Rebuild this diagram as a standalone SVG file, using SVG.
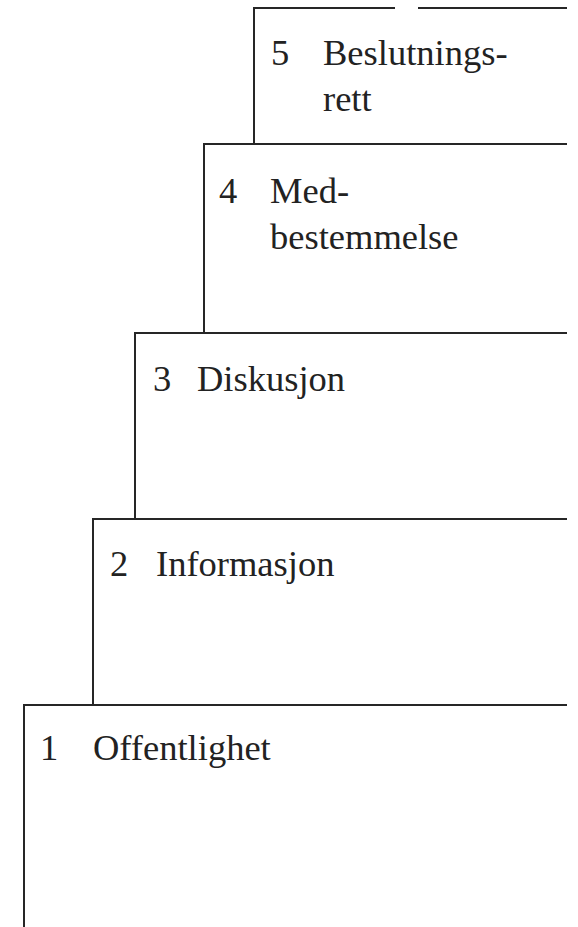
<svg xmlns="http://www.w3.org/2000/svg" width="578" height="927" viewBox="0 0 578 927">
<style>
.ln{stroke:#262626;stroke-width:2;fill:none;stroke-linecap:square}
.t{font-family:"Liberation Serif","Times New Roman",serif;font-size:36.5px;fill:#222}
</style>
<rect width="578" height="927" fill="#fff"/>
<g id="step5">
<path class="ln" d="M254,8 H394 M419,8 H566 M254,8 V144"/>
<text class="t" x="271" y="65">5</text>
<text class="t" x="323" y="65">Beslutnings-</text>
<text class="t" x="323" y="111">rett</text>
</g>
<g id="step4">
<path class="ln" d="M204,144 H566 M204,144 V333"/>
<text class="t" x="219" y="203">4</text>
<text class="t" x="270" y="203">Med-</text>
<text class="t" x="270" y="249">bestemmelse</text>
</g>
<g id="step3">
<path class="ln" d="M135,333 H566 M135,333 V519"/>
<text class="t" x="153" y="391">3</text>
<text class="t" x="197" y="391">Diskusjon</text>
</g>
<g id="step2">
<path class="ln" d="M93,519 H566 M93,519 V705"/>
<text class="t" x="110" y="576">2</text>
<text class="t" x="156" y="576">Informasjon</text>
</g>
<g id="step1">
<path class="ln" d="M24,705 H566 M24,705 V927"/>
<text class="t" x="40" y="760">1</text>
<text class="t" x="93" y="760">Offentlighet</text>
</g>
<g id="connectors"/>
</svg>
